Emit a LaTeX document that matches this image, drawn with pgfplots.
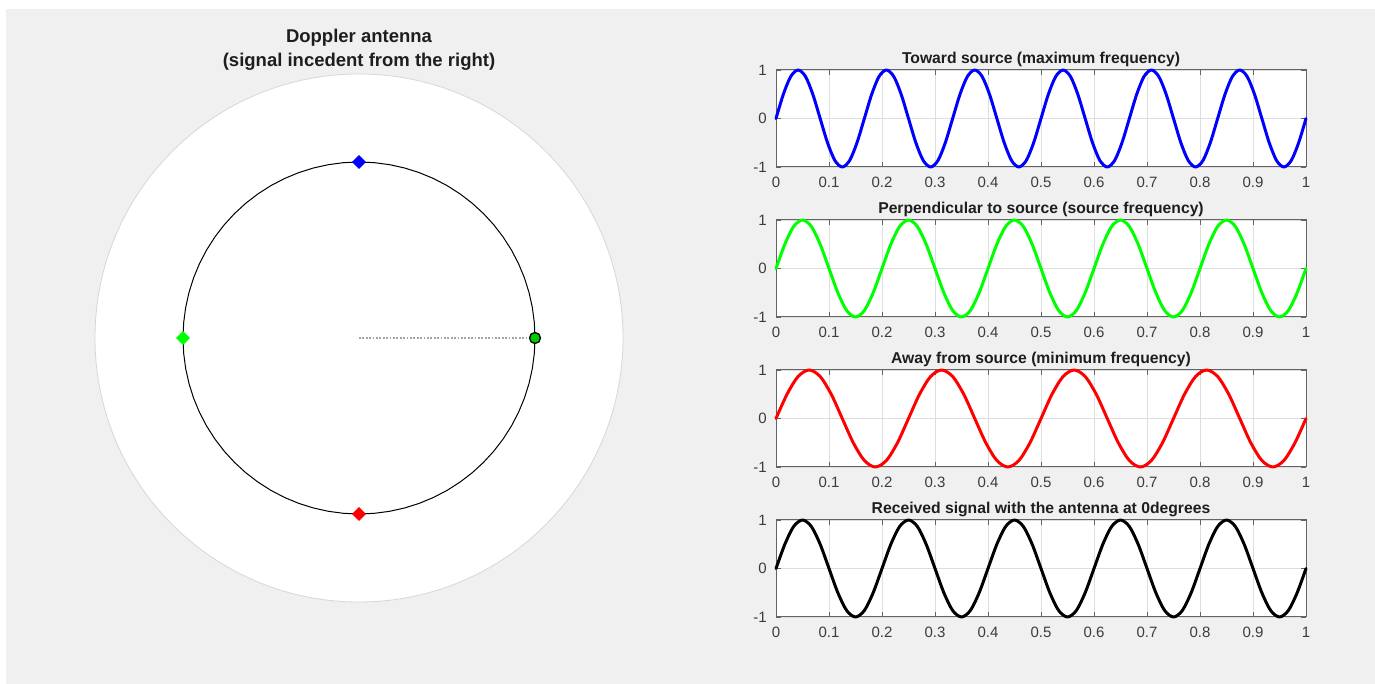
\documentclass[border=0pt]{standalone}
\usepackage{pgfplots}
\pgfplotsset{compat=1.18}
\usepackage{pgfplotstable}
\usepackage{fontspec}
\setmainfont{Liberation Sans}
\definecolor{figbg}{RGB}{240,240,240}
\definecolor{axgray}{RGB}{100,100,100}
\definecolor{tickgray}{RGB}{60,60,60}
\definecolor{gridgray}{RGB}{222,222,222}
\definecolor{ttl}{RGB}{30,30,30}
\definecolor{mgreen}{RGB}{0,255,0}
\definecolor{discedge}{RGB}{215,215,215}
\definecolor{dotgray}{RGB}{165,165,165}

% toward source: 6 cycles
\pgfplotstableread{
x y
0.0000 0
0.0139 0.5
0.0278 0.866
0.0417 1
0.0556 0.866
0.0694 0.5
0.0833 0
0.0972 -0.5
0.1111 -0.866
0.1250 -1
0.1389 -0.866
0.1528 -0.5
0.1667 0
0.1806 0.5
0.1944 0.866
0.2083 1
0.2222 0.866
0.2361 0.5
0.2500 0
0.2639 -0.5
0.2778 -0.866
0.2917 -1
0.3056 -0.866
0.3194 -0.5
0.3333 0
0.3472 0.5
0.3611 0.866
0.3750 1
0.3889 0.866
0.4028 0.5
0.4167 0
0.4306 -0.5
0.4444 -0.866
0.4583 -1
0.4722 -0.866
0.4861 -0.5
0.5000 0
0.5139 0.5
0.5278 0.866
0.5417 1
0.5556 0.866
0.5694 0.5
0.5833 0
0.5972 -0.5
0.6111 -0.866
0.6250 -1
0.6389 -0.866
0.6528 -0.5
0.6667 0
0.6806 0.5
0.6944 0.866
0.7083 1
0.7222 0.866
0.7361 0.5
0.7500 0
0.7639 -0.5
0.7778 -0.866
0.7917 -1
0.8056 -0.866
0.8194 -0.5
0.8333 0
0.8472 0.5
0.8611 0.866
0.8750 1
0.8889 0.866
0.9028 0.5
0.9167 0
0.9306 -0.5
0.9444 -0.866
0.9583 -1
0.9722 -0.866
0.9861 -0.5
1.0000 0
}\toward

% perpendicular / received: 5 cycles
\pgfplotstableread{
x y
0.0000 0
0.0167 0.5
0.0333 0.866
0.0500 1
0.0667 0.866
0.0833 0.5
0.1000 0
0.1167 -0.5
0.1333 -0.866
0.1500 -1
0.1667 -0.866
0.1833 -0.5
0.2000 0
0.2167 0.5
0.2333 0.866
0.2500 1
0.2667 0.866
0.2833 0.5
0.3000 0
0.3167 -0.5
0.3333 -0.866
0.3500 -1
0.3667 -0.866
0.3833 -0.5
0.4000 0
0.4167 0.5
0.4333 0.866
0.4500 1
0.4667 0.866
0.4833 0.5
0.5000 0
0.5167 -0.5
0.5333 -0.866
0.5500 -1
0.5667 -0.866
0.5833 -0.5
0.6000 0
0.6167 0.5
0.6333 0.866
0.6500 1
0.6667 0.866
0.6833 0.5
0.7000 0
0.7167 -0.5
0.7333 -0.866
0.7500 -1
0.7667 -0.866
0.7833 -0.5
0.8000 0
0.8167 0.5
0.8333 0.866
0.8500 1
0.8667 0.866
0.8833 0.5
0.9000 0
0.9167 -0.5
0.9333 -0.866
0.9500 -1
0.9667 -0.866
0.9833 -0.5
1.0000 0
}\perp

% away from source: 4 cycles
\pgfplotstableread{
x y
0.0000 0
0.0208 0.5
0.0417 0.866
0.0625 1
0.0833 0.866
0.1042 0.5
0.1250 0
0.1458 -0.5
0.1667 -0.866
0.1875 -1
0.2083 -0.866
0.2292 -0.5
0.2500 0
0.2708 0.5
0.2917 0.866
0.3125 1
0.3333 0.866
0.3542 0.5
0.3750 0
0.3958 -0.5
0.4167 -0.866
0.4375 -1
0.4583 -0.866
0.4792 -0.5
0.5000 0
0.5208 0.5
0.5417 0.866
0.5625 1
0.5833 0.866
0.6042 0.5
0.6250 0
0.6458 -0.5
0.6667 -0.866
0.6875 -1
0.7083 -0.866
0.7292 -0.5
0.7500 0
0.7708 0.5
0.7917 0.866
0.8125 1
0.8333 0.866
0.8542 0.5
0.8750 0
0.8958 -0.5
0.9167 -0.866
0.9375 -1
0.9583 -0.866
0.9792 -0.5
1.0000 0
}\away

\pgfplotsset{
  sub/.style={
    scale only axis, width=530pt, height=97pt, anchor=south west,
    xmin=0, xmax=1, ymin=-1, ymax=1,
    xtick={0,0.1,0.2,0.3,0.4,0.5,0.6,0.7,0.8,0.9,1},
    xticklabels={0,0.1,0.2,0.3,0.4,0.5,0.6,0.7,0.8,0.9,1},
    ytick={-1,0,1}, yticklabels={-1,0,1},
    grid=major, major grid style={gridgray, line width=0.8pt},
    axis line style={axgray, line width=1pt},
    tick style={axgray, line width=0.8pt}, tick align=inside, major tick length=5pt,
    tick label style={font=\fontsize{15}{17}\selectfont, text=tickgray, inner sep=0pt},
    xticklabel style={anchor=north, yshift=-10pt},
    yticklabel style={anchor=east, xshift=-9pt},
    title style={at={(0.5,1)}, anchor=base, yshift=0pt, font=\fontsize{15.7}{18}\selectfont\bfseries, text=ttl, inner sep=0pt},
    clip=false,
    axis background/.style={fill=white},
  },
  wave/.style={line width=3pt, line join=round, line cap=round, smooth},
}

\begin{document}
\begin{tikzpicture}[x=1pt,y=1pt]
\path[use as bounding box] (0,0) rectangle (1375,684);
\fill[figbg] (6,0) rectangle (1375,675);

% polar antenna view
\begin{axis}[at={(359pt,346pt)}, anchor=center, scale only axis,
  width=528pt, height=528pt, xmin=-1.5, xmax=1.5, ymin=-1.5, ymax=1.5,
  hide axis, clip=false]
  \draw[fill=white, draw=discedge, line width=0.8pt] (axis cs:0,0) circle[radius=1.5];
  \addplot[dotgray, line width=1.8pt, dash pattern=on 1.8pt off 1.6pt] coordinates {(0,0) (0.97,0)};
  \addplot[black, line width=1pt, data cs=polar] coordinates {
    (0,1) (5,1) (10,1) (15,1) (20,1) (25,1) (30,1) (35,1) (40,1) (45,1) (50,1) (55,1)
    (60,1) (65,1) (70,1) (75,1) (80,1) (85,1) (90,1) (95,1) (100,1) (105,1) (110,1) (115,1)
    (120,1) (125,1) (130,1) (135,1) (140,1) (145,1) (150,1) (155,1) (160,1) (165,1) (170,1) (175,1)
    (180,1) (185,1) (190,1) (195,1) (200,1) (205,1) (210,1) (215,1) (220,1) (225,1) (230,1) (235,1)
    (240,1) (245,1) (250,1) (255,1) (260,1) (265,1) (270,1) (275,1) (280,1) (285,1) (290,1) (295,1)
    (300,1) (305,1) (310,1) (315,1) (320,1) (325,1) (330,1) (335,1) (340,1) (345,1) (350,1) (355,1) (360,1)};
  \addplot[only marks, mark=diamond*, mark size=6.5pt, mark options={fill=blue, draw=blue, line width=0.5pt, xscale=1.35}] coordinates {(0,1)};
  \addplot[only marks, mark=diamond*, mark size=6.5pt, mark options={fill=red, draw=red, line width=0.5pt, xscale=1.35}] coordinates {(0,-1)};
  \addplot[only marks, mark=diamond*, mark size=6.5pt, mark options={fill=mgreen, draw=mgreen, line width=0.5pt, xscale=1.35}] coordinates {(-1,0)};
  \addplot[only marks, mark=*, mark size=5.5pt, mark options={fill=mgreen!80!black, draw=black, line width=1.3pt}] coordinates {(1,0)};
\end{axis}
\node[anchor=base, inner sep=0, text=ttl, font=\fontsize{18.5}{22}\selectfont\bfseries] at (359,641) {Doppler antenna};
\node[anchor=base, inner sep=0, text=ttl, font=\fontsize{18.5}{22}\selectfont\bfseries] at (359,617) {(signal incedent from the right)};

\begin{axis}[sub, at={(776pt,517pt)}, title={Toward source (maximum frequency)}]
  \addplot[wave, blue] table[x=x, y=y] {\toward};
\end{axis}
\begin{axis}[sub, at={(776pt,367pt)}, title={Perpendicular to source (source frequency)}]
  \addplot[wave, mgreen] table[x=x, y=y] {\perp};
\end{axis}
\begin{axis}[sub, at={(776pt,217pt)}, title={Away from source (minimum frequency)}]
  \addplot[wave, red] table[x=x, y=y] {\away};
\end{axis}
\begin{axis}[sub, at={(776pt,67pt)}, title={Received signal with the antenna at 0degrees}]
  \addplot[wave, black] table[x=x, y=y] {\perp};
\end{axis}
\end{tikzpicture}
\end{document}
